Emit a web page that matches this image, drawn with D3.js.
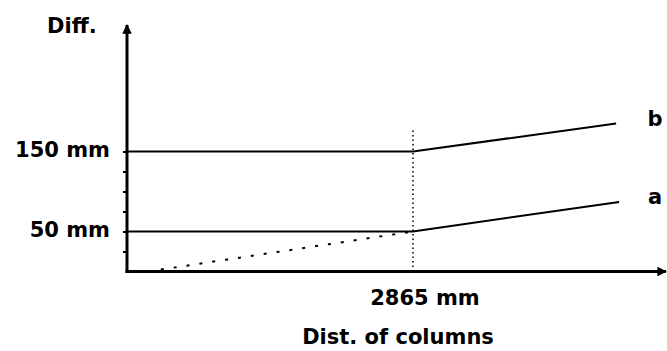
<!DOCTYPE html>
<html>
<head>
	<meta charset="utf-8">
	<script src="https://cdnjs.cloudflare.com/ajax/libs/d3/7.8.5/d3.min.js"></script>
	<style>
		body { margin: 0; background: #fff; }
		svg { display: block; }
		text {
			font-family: "DejaVu Sans", sans-serif;
			font-weight: bold;
			font-size: 21px;
			fill: #000;
		}
		.minor path { display: none; }
		.minor line { stroke: #000; stroke-width: 2; }
	</style>
</head>
<body>
	<svg width="667" height="351"></svg>
	<script>
	// data (mm)
	var seriesB = [[0, 150], [2865, 150], [4900, 185]];
	var seriesA = [[0, 50], [2865, 50], [4930, 87]];
	var dashedA = [[210, 0], [2865, 50]];
	var yTickValues = [50, 150];
	var yTickLabels = ["50 mm", "150 mm"];
	var yMinorTicks = [25, 50, 75, 100, 125, 150];
	var xTickValues = [2865];
	var xTickLabels = ["2865 mm"];
	var seriesNames = ["b", "a"];

	var svg = d3.select("svg");

	//scales
	var x = d3.scaleLinear().domain([0, 5400]).range([127, 666]),
		y = d3.scaleLinear().domain([0, 300]).range([271.5, 31.5]);

	var line = d3.line()
		.x(function(d) { return x(d[0]); })
		.y(function(d) { return y(d[1]); });

	//arrow heads
	var defs = svg.append("defs");
	defs.append("marker")
		.attr("id", "arrow")
		.attr("viewBox", "0 0 10 10")
		.attr("refX", 9).attr("refY", 5)
		.attr("markerWidth", 3.2).attr("markerHeight", 3.2)
		.attr("markerUnits", "strokeWidth")
		.attr("orient", "auto")
		.append("path")
		.attr("d", "M0,0L10,5L0,10Z")
		.attr("fill", "#000");

	//minor ticks on y axis
	svg.append("g")
		.attr("class", "minor")
		.attr("transform", "translate(" + x(0) + ",0)")
		.call(d3.axisLeft(y).tickValues(yMinorTicks).tickSize(4).tickFormat(""));

	//axes
	svg.append("line")
		.attr("x1", x(0)).attr("y1", y(0) + 1.5)
		.attr("x2", x(0)).attr("y2", 25)
		.attr("stroke", "#000").attr("stroke-width", 3)
		.attr("marker-end", "url(#arrow)");
	svg.append("line")
		.attr("x1", x(0) - 1.5).attr("y1", y(0))
		.attr("x2", 666).attr("y2", y(0))
		.attr("stroke", "#000").attr("stroke-width", 3)
		.attr("marker-end", "url(#arrow)");

	//y labels
	svg.selectAll(".ylab")
		.data(yTickValues)
		.enter().append("text")
		.attr("class", "ylab")
		.attr("x", 110)
		.attr("y", function(d) { return y(d) + 5; })
		.attr("text-anchor", "end")
		.text(function(d, i) { return yTickLabels[i]; });

	//x labels
	svg.selectAll(".xlab")
		.data(xTickValues)
		.enter().append("text")
		.attr("class", "xlab")
		.attr("x", function(d) { return x(d) + 12; })
		.attr("y", 305)
		.attr("text-anchor", "middle")
		.text(function(d, i) { return xTickLabels[i]; });

	svg.append("text")
		.attr("x", 398).attr("y", 344)
		.attr("text-anchor", "middle")
		.text("Dist. of columns");

	svg.append("text")
		.attr("x", 47).attr("y", 33)
		.text("Diff.");

	//vertical dotted line
	svg.append("line")
		.attr("x1", x(2865)).attr("y1", y(0))
		.attr("x2", x(2865)).attr("y2", 130)
		.attr("stroke", "#000").attr("stroke-width", 1.5)
		.attr("stroke-dasharray", "1.5,3");

	//series lines
	svg.selectAll(".series")
		.data([seriesB, seriesA])
		.enter().append("path")
		.attr("class", "series")
		.attr("d", line)
		.attr("fill", "none")
		.attr("stroke", "#000")
		.attr("stroke-width", 2);

	svg.append("path")
		.attr("d", line(dashedA))
		.attr("fill", "none")
		.attr("stroke", "#000")
		.attr("stroke-width", 2)
		.attr("stroke-dasharray", "3,10");

	//series names
	svg.selectAll(".name")
		.data([seriesB, seriesA])
		.enter().append("text")
		.attr("class", "name")
		.attr("x", 655)
		.attr("y", function(d) { return y(d[d.length - 1][1]) + 2; })
		.attr("text-anchor", "middle")
		.text(function(d, i) { return seriesNames[i]; });
	</script>
</body>
</html>
